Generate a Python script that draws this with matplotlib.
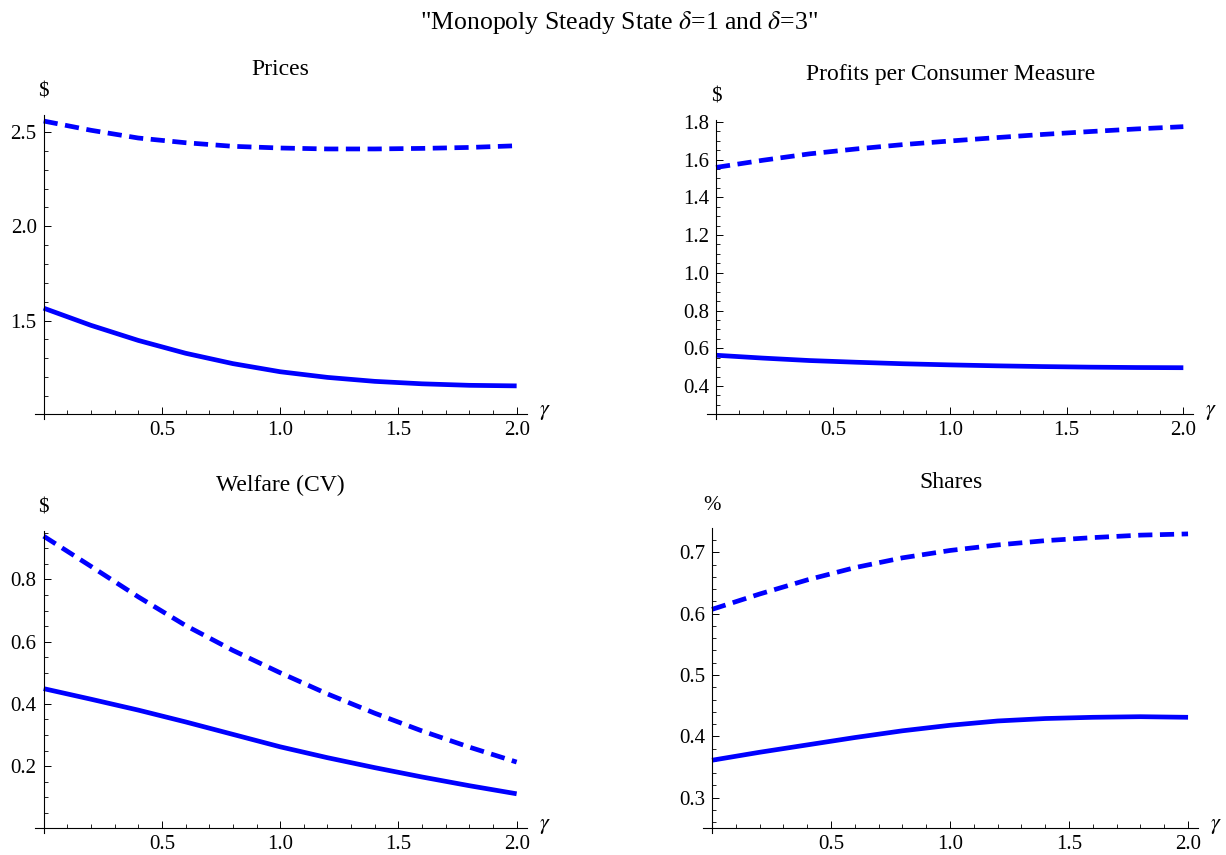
import numpy as np
import matplotlib
matplotlib.use("Agg")
import matplotlib.pyplot as plt
from matplotlib.ticker import MultipleLocator

plt.rcParams['font.family'] = ['Liberation Serif', 'DejaVu Serif']
plt.rcParams['mathtext.fontset'] = 'stix'

# gamma grid shared by all panels
gamma = [0.0, 0.2, 0.4, 0.6, 0.8, 1.0, 1.2, 1.4, 1.6, 1.8, 2.0]

# delta=1 (solid) and delta=3 (dashed)
prices_d1 = [1.566, 1.475, 1.395, 1.327, 1.272, 1.229, 1.199, 1.178, 1.165, 1.157, 1.154]
prices_d3 = [2.558, 2.509, 2.468, 2.443, 2.424, 2.415, 2.410, 2.410, 2.413, 2.418, 2.427]

profits_d1 = [0.563, 0.548, 0.535, 0.526, 0.518, 0.512, 0.507, 0.503, 0.500, 0.498, 0.497]
profits_d3 = [1.558, 1.596, 1.630, 1.656, 1.679, 1.698, 1.716, 1.733, 1.748, 1.762, 1.774]

welfare_d1 = [0.449, 0.415, 0.380, 0.342, 0.302, 0.262, 0.227, 0.195, 0.165, 0.137, 0.111]
welfare_d3 = [0.939, 0.842, 0.744, 0.652, 0.572, 0.500, 0.432, 0.370, 0.313, 0.261, 0.213]

shares_d1 = [0.361, 0.374, 0.386, 0.398, 0.409, 0.418, 0.425, 0.429, 0.431, 0.432, 0.431]
shares_d3 = [0.607, 0.632, 0.655, 0.675, 0.691, 0.703, 0.712, 0.719, 0.724, 0.728, 0.730]

xticks = [0.5, 1.0, 1.5, 2.0]

panels = [
    ("Prices", "$", prices_d1, prices_d3, (1.005, 2.59), [1.5, 2.0, 2.5], 0.1,
     [0.0283, 0.5158, 0.4012, 0.3497]),
    ("Profits per Consumer Measure", "$", profits_d1, profits_d3, (0.25, 1.81),
     [0.4, 0.6, 0.8, 1.0, 1.2, 1.4, 1.6, 1.8], 0.05,
     [0.5768, 0.5154, 0.3964, 0.3444]),
    ("Welfare (CV)", "$", welfare_d1, welfare_d3, (0.0, 0.955), [0.2, 0.4, 0.6, 0.8], 0.05,
     [0.0283, 0.0312, 0.4012, 0.3475]),
    ("Shares", "%", shares_d1, shares_d3, (0.25, 0.739), [0.3, 0.4, 0.5, 0.6, 0.7], 0.02,
     [0.5734, 0.0312, 0.4038, 0.3508]),
]

fig = plt.figure(figsize=(12.26, 8.55), dpi=100)
fig.text(0.505, 0.974, '"Monopoly Steady State $\\delta$=1 and $\\delta$=3"',
         ha='center', va='center', fontsize=18.5)

for title, unit, d1, d3, ylim, yticks, yminor, rect in panels:
    ax = fig.add_axes(rect)
    ax.plot(gamma, d1, color='blue', lw=3.4, solid_capstyle='butt')
    ax.plot(gamma, d3, color='blue', lw=3.4, dashes=(3.0, 1.6), dash_capstyle='butt')
    ax.set_xlim(-0.038, 2.042)
    ax.set_ylim(*ylim)
    for s in ['top', 'right']:
        ax.spines[s].set_visible(False)
    ax.spines['left'].set_position(('data', 0))
    ax.spines['left'].set_linewidth(0.8)
    ax.spines['bottom'].set_linewidth(0.8)
    # let the vertical axis poke a little below the horizontal one
    ext = (ylim[1] - ylim[0]) * 5.0 / (rect[3] * 855)
    ax.spines['left'].set_bounds(ylim[0] - ext, ylim[1])
    ax.set_xticks(xticks)
    ax.set_xticklabels(['%.1f' % v for v in xticks])
    ax.xaxis.set_minor_locator(MultipleLocator(0.1))
    ax.set_yticks(yticks)
    ax.set_yticklabels(['%.1f' % v for v in yticks])
    ax.yaxis.set_minor_locator(MultipleLocator(yminor))
    ax.tick_params(which='major', direction='in', length=5, width=0.7, labelsize=15, pad=5)
    ax.tick_params(which='minor', direction='in', length=3, width=0.6)
    ax.set_title(title, fontsize=17, pad=29)
    ax.annotate(unit, xy=(0, 1), xycoords=('data', 'axes fraction'),
                xytext=(0, 16.5), textcoords='offset points',
                ha='center', va='center', fontsize=15)
    ax.annotate('$\\gamma$', xy=(1, 0), xycoords='axes fraction',
                xytext=(13, 1), textcoords='offset points',
                ha='center', va='center', fontsize=16)

fig.savefig('out.png', dpi=100)
